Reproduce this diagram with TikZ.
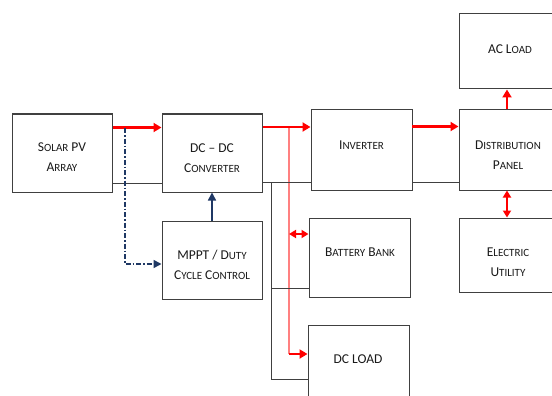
\documentclass[tikz,border=0pt]{standalone}
\usepackage{fontspec}
\setmainfont{Carlito}
\usetikzlibrary{arrows.meta}
\definecolor{boxline}{HTML}{404040}
\definecolor{pvred}{HTML}{FF0000}
\definecolor{pinkline}{HTML}{FF8080}
\definecolor{navyline}{HTML}{1F3864}
\definecolor{txt}{HTML}{1A1A1A}
\newcommand\sk[1]{{\fontsize{11}{10}\selectfont #1}}
\tikzset{
  blk/.style={draw=boxline, line width=1pt, fill=white, inner sep=0pt},
  lbl/.style={text=txt, align=center, font=\fontsize{13.5}{20}\selectfont, inner sep=0pt},
  redarrow/.style={draw=pvred, line width=2.2pt, -{Triangle[length=8pt,width=9pt]}},
  reddbl/.style={draw=pvred, line width=2.2pt, {Triangle[length=7pt,width=8pt]}-{Triangle[length=7pt,width=8pt]}},
  pinkl/.style={draw=pinkline, line width=1.5pt},
  blkline/.style={draw=boxline, line width=1pt},
  navyarrow/.style={draw=navyline, line width=1.6pt, -{Triangle[length=8pt,width=8pt]}},
  navydash/.style={draw=navyline, line width=1.6pt, dash pattern=on 5pt off 2pt on 1.5pt off 2pt, -{Triangle[length=8pt,width=8pt]}}
}
\begin{document}
\begin{tikzpicture}[x=1pt,y=-1pt]
\clip (0,0) rectangle (552,396);
\fill[white] (0,0) rectangle (552,396);
% boxes
\node[blk, minimum width=100pt, minimum height=78pt] (solar) at (62,153) {};
\node[lbl] (solart) at (62,157) {S\sk{OLAR} PV\\A\sk{RRAY}};
\node[blk, minimum width=100pt, minimum height=78pt] (conv) at (212,153) {};
\node[lbl] (convt) at (212,158) {DC – DC\\C\sk{ONVERTER}};
\node[blk, minimum width=100pt, minimum height=78pt] (mppt) at (212,260) {};
\node[lbl] (mpptt) at (212,265) {MPPT / D\sk{UTY}\\C\sk{YCLE} C\sk{ONTROL}};
\node[blk, minimum width=101pt, minimum height=80pt] (inv) at (361.5,150) {};
\node[lbl] (invt) at (361.5,145) {I\sk{NVERTER}};
\node[blk, minimum width=101pt, minimum height=80pt] (panel) at (509.5,150) {};
\node[lbl] (panelt) at (508,155) {D\sk{ISTRIBUTION}\\P\sk{ANEL}};
\node[blk, minimum width=101pt, minimum height=75pt] (acload) at (509.5,51.5) {};
\node[lbl] (acloadt) at (510,49) {AC L\sk{OAD}};
\node[blk, minimum width=101pt, minimum height=74pt] (util) at (509.5,255) {};
\node[lbl] (utilt) at (508,262) {E\sk{LECTRIC}\\U\sk{TILITY}};
\node[blk, minimum width=101pt, minimum height=79pt] (batt) at (359.5,257.5) {};
\node[lbl] (battt) at (360,252) {B\sk{ATTERY} B\sk{ANK}};
\node[blk, minimum width=101pt, minimum height=79pt] (dcload) at (358.5,364.5) {};
\node[lbl] (dcloadt) at (358,359) {DC LOAD};
% junction coordinates
\coordinate (dashtop) at (125,128);
\coordinate (dashbot) at (125,264);
\coordinate (busb) at (271,182);
\coordinate (busbb) at (271,288);
\coordinate (busbd) at (271,379);
\coordinate (pinktop) at (289,127);
\coordinate (pinkb) at (289,234);
\coordinate (pinkd) at (289,354);
\coordinate (invred) at (412,126.5);
% solar -> converter
\draw[redarrow] ([yshift=-14pt]solar.north east) -- ([yshift=-14pt]conv.north west);
\draw[blkline] ([yshift=9pt]solar.south east) -- ([yshift=9pt]conv.south west);
\draw[navydash] (dashtop) -- (dashbot) -- (mppt.west |- dashbot);
\draw[navyarrow] (mppt.north) -- (conv.south);
% converter -> inverter
\draw[pinkl] (pinktop) -- (pinkd);
\draw[redarrow] (conv.east |- pinktop) -- (inv.west |- pinktop);
\draw[blkline] (conv.east |- busb) -- (inv.west |- busb);
\draw[blkline] (busb) -- (busbd);
\draw[blkline] (busbb) -- (batt.west |- busbb);
\draw[blkline] (busbd) -- (dcload.west |- busbd);
\draw[reddbl] (pinkb) -- (batt.west |- pinkb);
\draw[redarrow] (pinkd) -- (dcload.west |- pinkd);
% inverter -> panel
\draw[redarrow] (invred) -- (panel.west |- invred);
\draw[blkline] ([yshift=8pt]inv.south east) -- ([yshift=8pt]panel.south west);
\draw[redarrow] ([xshift=-2.5pt]panel.north) -- ([xshift=-2.5pt]acload.south);
\draw[reddbl] ([xshift=-2.5pt]panel.south) -- ([xshift=-2.5pt]util.north);
\end{tikzpicture}
\end{document}
